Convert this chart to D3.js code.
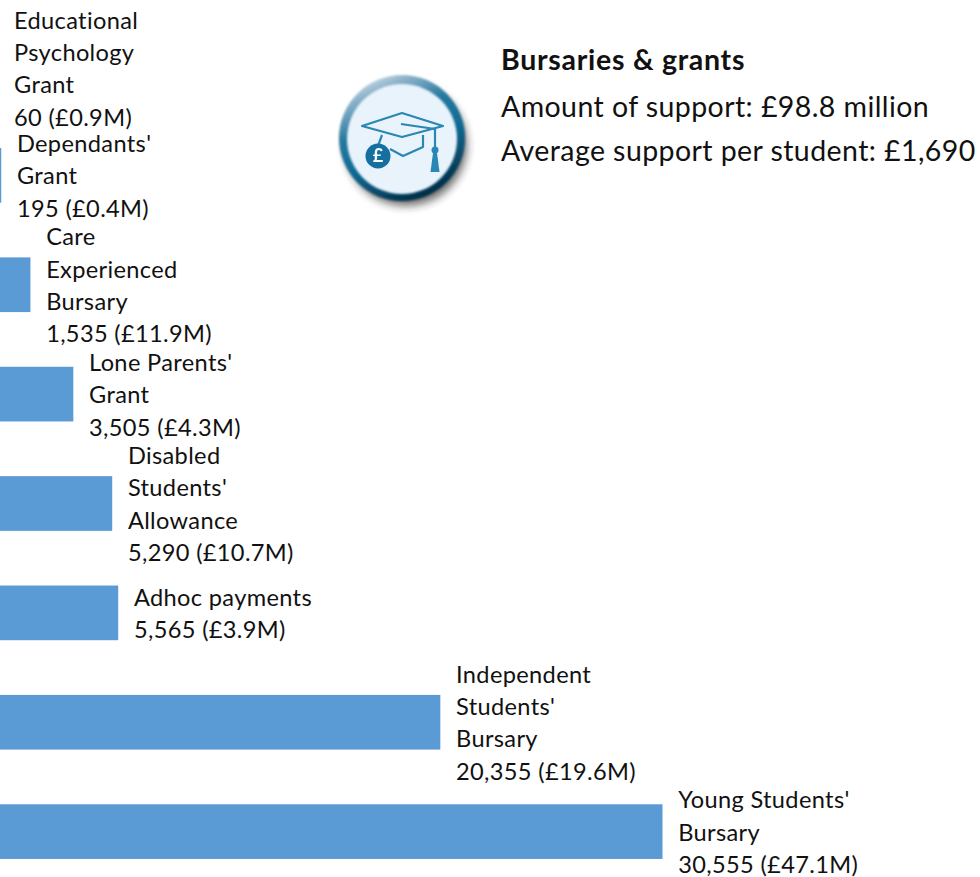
<!DOCTYPE html>
<html><head><meta charset="utf-8">
<style>html,body{margin:0;padding:0;background:#fff;overflow:hidden}svg{display:block}text{font-family:"Lato",sans-serif;fill:#111}</style>
<script src="https://cdn.jsdelivr.net/npm/d3@7"></script></head><body>
<svg id="c" width="980" height="877"></svg>
<script>
const categories=["Educational Psychology Grant","Dependants' Grant","Care Experienced Bursary","Lone Parents' Grant","Disabled Students' Allowance","Adhoc payments","Independent Students' Bursary","Young Students' Bursary"];
const labelLines=[["Educational","Psychology","Grant"],["Dependants'","Grant"],["Care","Experienced","Bursary"],["Lone Parents'","Grant"],["Disabled","Students'","Allowance"],["Adhoc payments"],["Independent","Students'","Bursary"],["Young Students'","Bursary"]];
const students=[60,195,1535,3505,5290,5565,20355,30555];
const amounts=["£0.9M","£0.4M","£11.9M","£4.3M","£10.7M","£3.9M","£19.6M","£47.1M"];
const infoTitle="Bursaries & grants";
const infoLines=["Amount of support: £98.8 million","Average support per student: £1,690"];

const svg=d3.select("#c");
const x=d3.scaleLinear().domain([0,30555]).range([-3,662.5]);
const y=d3.scaleBand().domain(categories).range([11.3,886.3]).paddingInner(0.5).paddingOuter(0.25);
const fs=23.6, lh=32.3;
svg.selectAll("rect.bar").data(categories).join("rect").attr("class","bar")
 .attr("x",x(0)).attr("y",d=>y(d)).attr("height",y.bandwidth())
 .attr("width",(d,i)=>Math.max(0,x(students[i])-x(0))).attr("fill","#5b9bd5");
categories.forEach((c,i)=>{
  const lines=[...labelLines[i],d3.format(",")(students[i])+" ("+amounts[i]+")"];
  const cy=Math.max(y(c)+y.bandwidth()/2+0.8,69);
  const top=cy-(lines.length-1)*lh/2;
  const t=svg.append("text").attr("font-size",fs).attr("letter-spacing",0.35);
  lines.forEach((l,k)=>t.append("tspan").attr("x",x(students[i])+15.7).attr("y",top+k*lh+8.3).text(l));
});
svg.append("text").attr("x",501).attr("y",70.4).attr("font-size",28.5).attr("letter-spacing",0.72).attr("font-weight",700).text(infoTitle);
infoLines.forEach((l,i)=>svg.append("text").attr("x",501).attr("y",116.6+44*i).attr("font-size",28.5).attr("letter-spacing",0.42).text(l));

// icon
const defs=svg.append("defs");
const g1=defs.append("linearGradient").attr("id","ring").attr("x1","0.25").attr("y1","0").attr("x2","0.7").attr("y2","1");
[[0,"#d5e2ec"],[0.12,"#8fb4cb"],[0.35,"#26799f"],[0.6,"#0f6a94"],[1,"#01283f"]].forEach(s=>g1.append("stop").attr("offset",s[0]).attr("stop-color",s[1]));
defs.append("filter").attr("id","sh").attr("x","-30%").attr("y","-30%").attr("width","160%").attr("height","160%").append("feGaussianBlur").attr("stdDeviation",4);
defs.append("filter").attr("id","soft").append("feGaussianBlur").attr("stdDeviation",1);
const ic=svg.append("g").attr("transform","translate(402,138)");
ic.append("circle").attr("cx",4).attr("cy",7).attr("r",61).attr("fill","#222").attr("opacity",0.65).attr("filter","url(#sh)");
ic.append("circle").attr("r",63).attr("fill","url(#ring)").attr("filter","url(#soft)");
ic.append("circle").attr("cy",1).attr("r",55).attr("fill","#e8f3fc").attr("filter","url(#soft)");
const blue="#2a86b3";
const art=ic.append("g").attr("filter","url(#art)");
defs.append("filter").attr("id","art").append("feGaussianBlur").attr("stdDeviation",0.4);
const ln=(pts,close)=>art.append("path").attr("d",d3.line()(pts)+(close?"Z":"")).attr("fill","none").attr("stroke",blue).attr("stroke-width",2.2).attr("stroke-linejoin","round");
ln([[-40,-12],[0,-25],[41,-12],[0,-1]],true);
ln([[-1,-14],[33,-9]]);
ln([[33,-9],[33,10]]);
ln([[-20,-3],[-24,8]]);
ln([[-12,11],[1,18],[21,9],[21,-3]]);
art.append("circle").attr("cx",33).attr("cy",12).attr("r",3.5).attr("fill",blue);
art.append("path").attr("d",d3.line()([[31,15],[35,15],[37.5,34],[28.5,34]])+"Z").attr("fill",blue);
art.append("circle").attr("cx",-24).attr("cy",18).attr("r",12.5).attr("fill","#12709f");
art.append("text").attr("x",-24).attr("y",24).attr("text-anchor","middle").attr("font-size",18).attr("font-weight",700).style("fill","#fff").text("£");
</script></body></html>
